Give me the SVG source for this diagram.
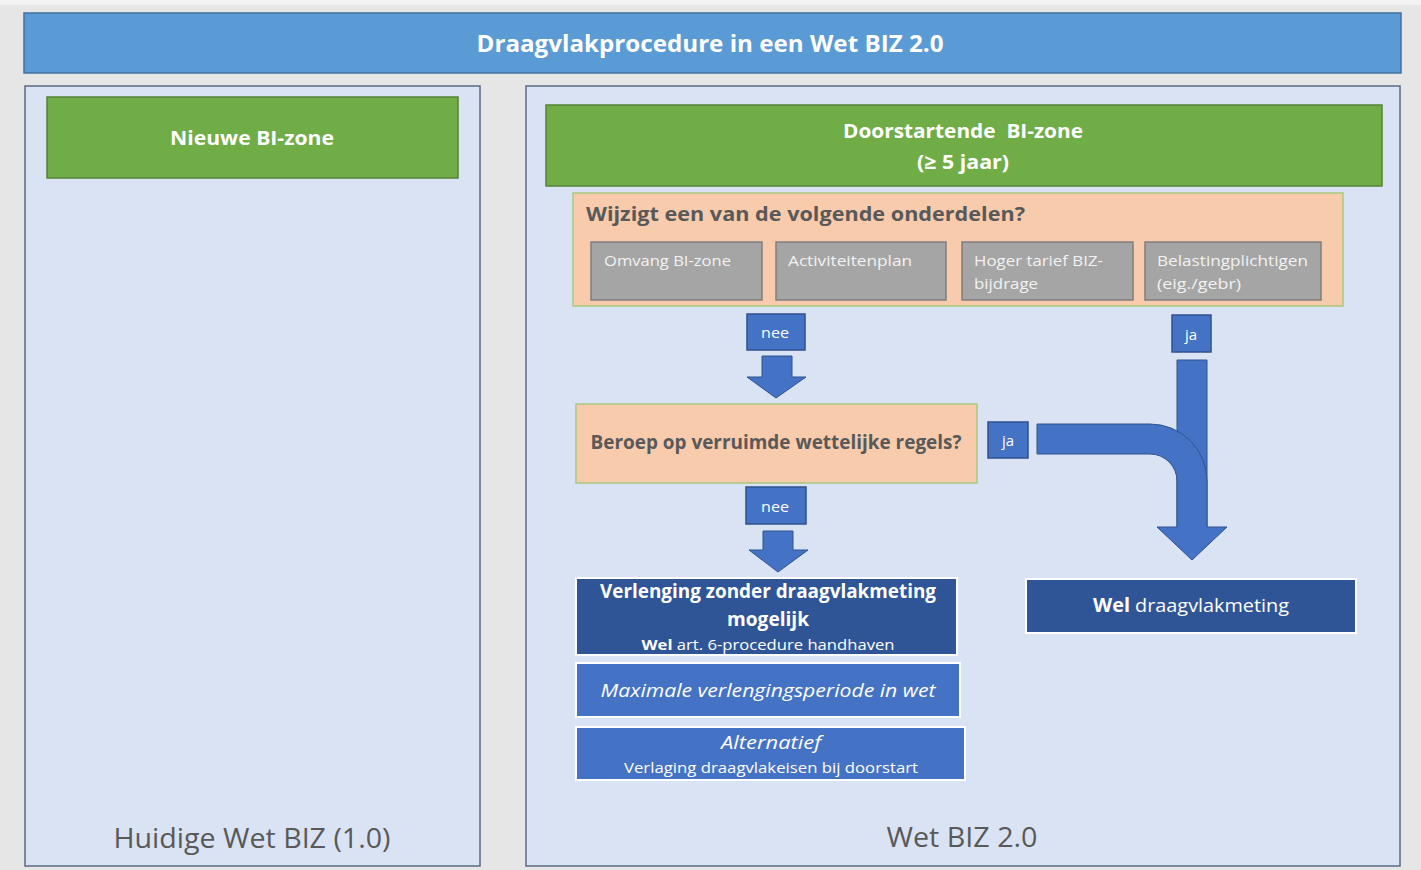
<svg xmlns="http://www.w3.org/2000/svg" width="1421" height="870" viewBox="0 0 1421 870">
<style>
text{font-family:"Open Sans","Liberation Sans",sans-serif}
.panel{fill:#dae3f3;stroke:#5a6a84;stroke-width:1.5}
.green{fill:#70ad47;stroke:#548235;stroke-width:1.5}
.peach{fill:#f8cbad;stroke:#a9c97e;stroke-width:1.5}
.gray{fill:#a5a5a5;stroke:#7f7f7f;stroke-width:1.5}
.lbl{fill:#4472c4;stroke:#2f528f;stroke-width:1.5}
.dark{fill:#2f5597;stroke:#ffffff;stroke-width:2}
.mid{fill:#4472c4;stroke:#ffffff;stroke-width:2}
.arrow{fill:#4472c4;stroke:#2f528f;stroke-width:1}
.afill{fill:#4472c4;stroke:none}
.aline{fill:none;stroke:#2f528f;stroke-width:1}
.wt{fill:#ffffff}
.gt{fill:#f2f2f2;font-size:15px}
.q{fill:#595959;font-weight:bold}
.bot{fill:#595959;font-size:27px}
</style>
<rect x="0" y="0" width="1421" height="870" fill="#e7e6e6"/>
<rect x="0" y="0" width="1421" height="5" fill="#f2f2f2"/>

<g id="title">
<rect x="24" y="13" width="1377" height="60" fill="#5b9bd5" stroke="#41719c" stroke-width="1.5"/>
<text x="710" y="52" text-anchor="middle" class="wt" font-size="23" font-weight="bold" textLength="467" lengthAdjust="spacingAndGlyphs">Draagvlakprocedure in een Wet BIZ 2.0</text>
</g>

<g id="panel-left">
<rect class="panel" x="25" y="86" width="455" height="780"/>
<text x="252" y="848" text-anchor="middle" class="bot" textLength="277" lengthAdjust="spacingAndGlyphs">Huidige Wet BIZ (1.0)</text>
</g>

<g id="panel-right">
<rect class="panel" x="526" y="86" width="874" height="780"/>
<text x="962" y="847" text-anchor="middle" class="bot" textLength="151" lengthAdjust="spacingAndGlyphs">Wet BIZ 2.0</text>
</g>

<g id="nieuwe">
<rect class="green" x="47" y="97" width="411" height="81"/>
<text x="252" y="145" text-anchor="middle" class="wt" font-size="20" font-weight="bold" textLength="164" lengthAdjust="spacingAndGlyphs">Nieuwe BI-zone</text>
</g>

<g id="doorstartende">
<rect class="green" x="546" y="105" width="836" height="81"/>
<text x="963" y="138" text-anchor="middle" class="wt" font-size="20" font-weight="bold" textLength="240" lengthAdjust="spacingAndGlyphs" xml:space="preserve">Doorstartende  BI-zone</text>
<text x="963" y="169" text-anchor="middle" class="wt" font-size="20" font-weight="bold" textLength="92" lengthAdjust="spacingAndGlyphs">(≥ 5 jaar)</text>
</g>

<g id="wijzigt">
<rect class="peach" x="573" y="193" width="770" height="113"/>
<text x="586" y="221" class="q" font-size="20" textLength="439" lengthAdjust="spacingAndGlyphs">Wijzigt een van de volgende onderdelen?</text>
</g>

<g id="omvang">
<rect class="gray" x="591" y="242" width="171" height="58"/>
<text x="604" y="266" class="gt" textLength="127" lengthAdjust="spacingAndGlyphs">Omvang BI-zone</text>
</g>
<g id="activiteitenplan">
<rect class="gray" x="776" y="242" width="170" height="58"/>
<text x="788" y="266" class="gt" textLength="124" lengthAdjust="spacingAndGlyphs">Activiteitenplan</text>
</g>
<g id="tarief">
<rect class="gray" x="962" y="242" width="171" height="58"/>
<text x="974" y="266" class="gt" textLength="129" lengthAdjust="spacingAndGlyphs">Hoger tarief BIZ-</text>
<text x="974" y="289" class="gt" textLength="64" lengthAdjust="spacingAndGlyphs">bijdrage</text>
</g>
<g id="belasting">
<rect class="gray" x="1145" y="242" width="176" height="58"/>
<text x="1157" y="266" class="gt" textLength="151" lengthAdjust="spacingAndGlyphs">Belastingplichtigen</text>
<text x="1157" y="289" class="gt" textLength="84" lengthAdjust="spacingAndGlyphs">(eig./gebr)</text>
</g>

<g id="beroep">
<rect class="peach" x="576" y="404" width="401" height="79"/>
<text x="776" y="449" text-anchor="middle" class="q" font-size="19" textLength="371" lengthAdjust="spacingAndGlyphs">Beroep op verruimde wettelijke regels?</text>
</g>

<g id="verlenging">
<rect class="dark" x="576" y="578" width="381" height="77"/>
<text x="768" y="598" text-anchor="middle" class="wt" font-size="19" font-weight="bold" textLength="336" lengthAdjust="spacingAndGlyphs">Verlenging zonder draagvlakmeting</text>
<text x="768" y="626" text-anchor="middle" class="wt" font-size="19" font-weight="bold" textLength="82" lengthAdjust="spacingAndGlyphs">mogelijk</text>
<text x="768" y="650" text-anchor="middle" class="wt" font-size="15" textLength="253" lengthAdjust="spacingAndGlyphs"><tspan font-weight="bold">Wel</tspan> art. 6-procedure handhaven</text>
</g>

<g id="maximale">
<rect class="mid" x="576" y="663" width="384" height="54"/>
<text x="768" y="697" text-anchor="middle" class="wt" font-size="19" font-style="italic" textLength="335" lengthAdjust="spacingAndGlyphs">Maximale verlengingsperiode in wet</text>
</g>

<g id="alternatief">
<rect class="mid" x="576" y="727" width="389" height="53"/>
<text x="771" y="749" text-anchor="middle" class="wt" font-size="19" font-style="italic" textLength="100" lengthAdjust="spacingAndGlyphs">Alternatief</text>
<text x="771" y="773" text-anchor="middle" class="wt" font-size="15" textLength="294" lengthAdjust="spacingAndGlyphs">Verlaging draagvlakeisen bij doorstart</text>
</g>

<g id="wel-draagvlakmeting">
<rect class="dark" x="1026" y="579" width="330" height="54"/>
<text x="1191" y="612" text-anchor="middle" class="wt" font-size="19" textLength="196" lengthAdjust="spacingAndGlyphs"><tspan font-weight="bold">Wel</tspan> draagvlakmeting</text>
</g>

<g id="connectors">
<path class="arrow" d="M762 356 H792 V377 H806 L776 398 L747 377 H762 Z"/>
<path class="arrow" d="M763 531 H793 V550 H808 L778 572 L749 550 H763 Z"/>
<path class="arrow" d="M1177 360 H1207 V527 H1227 L1192 560 L1157 527 H1177 Z"/>
<path class="afill" d="M1037 424 H1150 A57 57 0 0 1 1207 481 V528 H1177 V481 A27 27 0 0 0 1150 454 H1037 Z"/>
<path class="aline" d="M1177 527 V481 A27 27 0 0 0 1150 454 H1037 V424 H1150 A57 57 0 0 1 1207 481 V527"/>
<g id="lbl-nee1">
<rect class="lbl" x="747" y="314" width="58" height="36"/>
<text x="775" y="338" text-anchor="middle" class="wt" font-size="15" textLength="28" lengthAdjust="spacingAndGlyphs">nee</text>
</g>
<g id="lbl-nee2">
<rect class="lbl" x="746" y="487" width="60" height="37"/>
<text x="775" y="512" text-anchor="middle" class="wt" font-size="15" textLength="28" lengthAdjust="spacingAndGlyphs">nee</text>
</g>
<g id="lbl-ja1">
<rect class="lbl" x="988" y="422" width="40" height="36"/>
<text x="1008" y="446" text-anchor="middle" class="wt" font-size="15">ja</text>
</g>
<g id="lbl-ja2">
<rect class="lbl" x="1172" y="315" width="39" height="37"/>
<text x="1191" y="340" text-anchor="middle" class="wt" font-size="15">ja</text>
</g>
</g>
</svg>
